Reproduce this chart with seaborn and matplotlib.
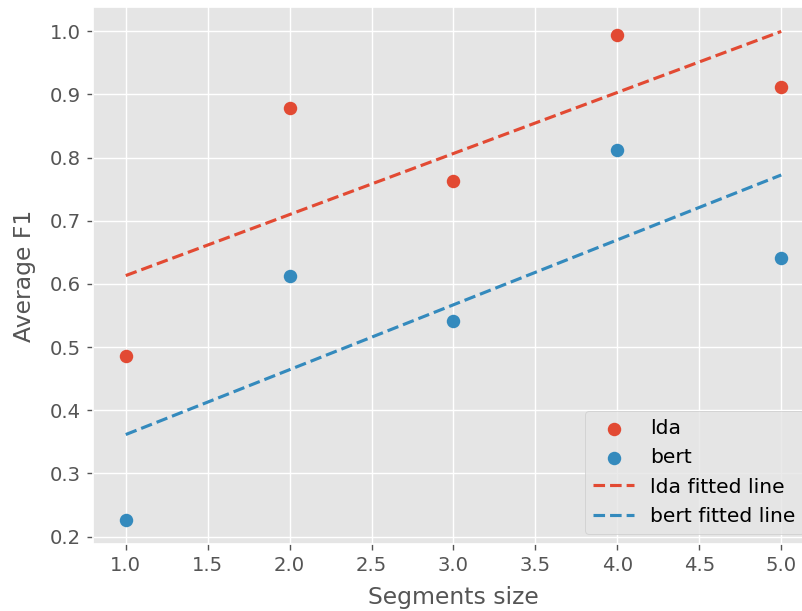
import numpy as np
import pandas as pd
import matplotlib
matplotlib.use("Agg")
import matplotlib.pyplot as plt
import seaborn as sns

segments = [1, 2, 3, 4, 5]
lda_f1 = [0.486, 0.878, 0.763, 0.994, 0.911]
bert_f1 = [0.227, 0.613, 0.542, 0.812, 0.641]

plt.style.use('ggplot')
colors = ['#E24A33', '#348ABD']

fig, ax = plt.subplots(figsize=(8.03 / 1.25, 6.11 / 1.25), dpi=125)

series = [('lda', lda_f1), ('bert', bert_f1)]
for (name, vals), c in zip(series, colors):
    sns.scatterplot(x=segments, y=vals, ax=ax, color=c, s=60, linewidth=0, label=name)

for (name, vals), c in zip(series, colors):
    k, b = np.polyfit(segments, vals, 1)
    fit = pd.DataFrame({'x': segments, 'y': np.polyval([k, b], segments)})
    sns.lineplot(data=fit, x='x', y='y', ax=ax, color=c, linestyle='--',
                 linewidth=1.8, label=name + ' fitted line')

ax.set_xlabel('Segments size', fontsize=13.5, labelpad=6)
ax.set_ylabel('Average F1', fontsize=13.5, labelpad=8)
ax.set_xticks(np.arange(1.0, 5.01, 0.5))
ax.set_xticklabels(['%.1f' % t for t in np.arange(1.0, 5.01, 0.5)])
ax.tick_params(labelsize=11.3)
ax.legend(loc='lower right', fontsize=11.7)

# original figure was cropped on the right, so the axes run past the edge
ax.set_position([93 / 803, 1 - 544 / 611, 721 / 803, 537 / 611])
fig.savefig('out.png')
